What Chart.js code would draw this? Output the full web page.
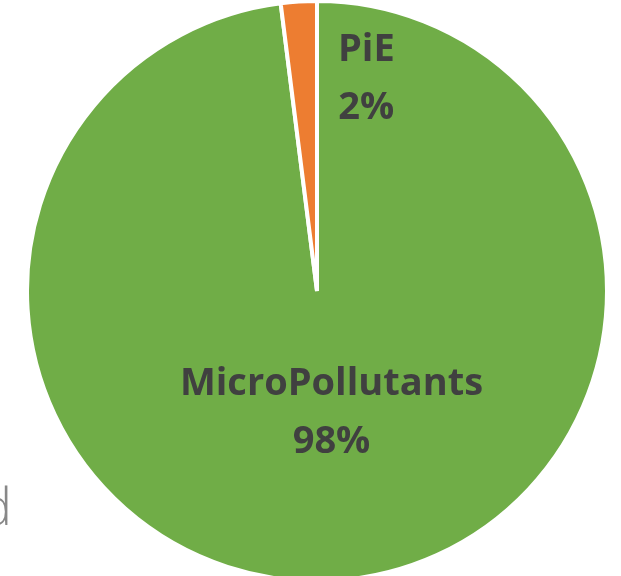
<!DOCTYPE html>
<html>
<head>
<meta charset="utf-8">
<script src="https://cdn.jsdelivr.net/npm/chart.js@4"></script>
<style>
    html, body { margin: 0; padding: 0; background: #fff; overflow: hidden; }
    body { width: 621px; height: 576px; position: relative; }
    #wrap { position: absolute; left: 25px; top: -1px; width: 584px; height: 584px; }
    #sideText {
        position: absolute; left: -19px; top: 479px;
        font-family: 'Open Sans', 'Lato', sans-serif; font-weight: 300;
        font-size: 52px; color: #888888; line-height: 1;
    }
</style>
</head>
<body>
<div id="sideText">d</div>
<div id="wrap"><canvas id="pieChart"></canvas></div>
<script>
// ========== 数据 ==========
const categories = ['MicroPollutants', 'PiE'];
const shares = [98, 2];
const sliceColors = ['#70AD47', '#ED7D31'];

// 标签位置（相对饼图中心，按半径比例）
const labelOffsets = [
    { dx: 0.05, dy: 0.42 },
    { dx: 0.17, dy: -0.73 }
];

const sliceLabels = {
    id: 'sliceLabels',
    afterDatasetsDraw(chart) {
        const ctx = chart.ctx;
        const meta = chart.getDatasetMeta(0);
        ctx.save();
        ctx.fillStyle = '#404040';
        ctx.font = 'bold 38px "Open Sans", "Noto Sans", sans-serif';
        ctx.textAlign = 'center';
        ctx.textBaseline = 'middle';
        meta.data.forEach((arc, i) => {
            const r = arc.outerRadius;
            const x = arc.x + labelOffsets[i].dx * r;
            const y = arc.y + labelOffsets[i].dy * r;
            ctx.fillText(categories[i], x, y - 29);
            ctx.fillText(shares[i] + '%', x, y + 29);
        });
        ctx.restore();
    }
};

new Chart(document.getElementById('pieChart').getContext('2d'), {
    type: 'pie',
    data: {
        labels: categories,
        datasets: [{
            data: shares,
            backgroundColor: sliceColors,
            borderColor: '#ffffff',
            borderWidth: 4,
            hoverOffset: 0
        }]
    },
    options: {
        responsive: true,
        maintainAspectRatio: false,
        animation: false,
        layout: { padding: 0 },
        plugins: {
            legend: { display: false },
            tooltip: { enabled: false }
        }
    },
    plugins: [sliceLabels]
});
</script>
</body>
</html>
